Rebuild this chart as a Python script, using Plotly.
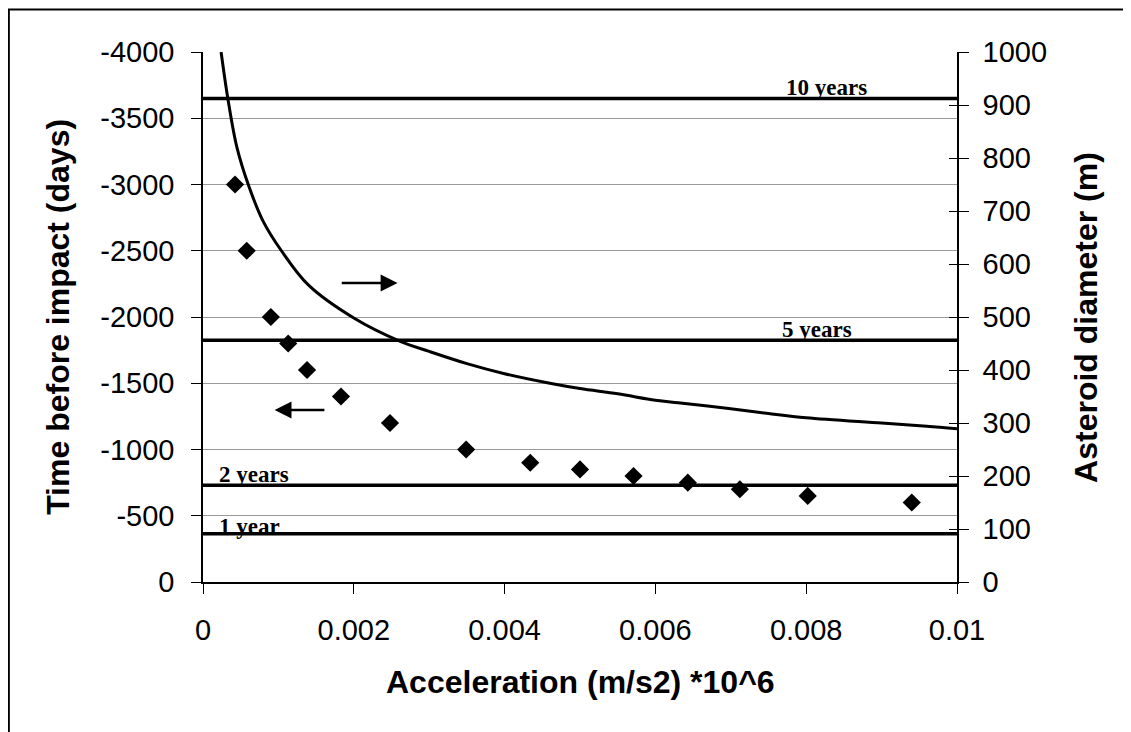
import plotly.graph_objects as go

# Diamond markers: time before impact (days) vs acceleration
accel_pts = [0.000425, 0.00058, 0.0009, 0.00113, 0.00138, 0.00183, 0.00248, 0.00349,
             0.00434, 0.005, 0.00571, 0.00643, 0.00712, 0.00802, 0.0094]
days_pts = [-3000, -2500, -2000, -1800, -1600, -1400, -1200, -1000,
            -900, -850, -800, -750, -700, -650, -600]

# Curve: asteroid diameter (m) vs acceleration
accel_curve = [0.00024, 0.00033, 0.00045, 0.0006, 0.0008, 0.00104, 0.0014, 0.002,
               0.0026, 0.003, 0.0035, 0.004, 0.0046, 0.005, 0.0055, 0.006, 0.0063,
               0.007, 0.0075, 0.008, 0.009, 0.0096, 0.01]
diam_curve = [1000, 912, 820, 750, 680, 625, 560, 498, 455, 435, 412, 393, 375, 365,
              355, 343, 338, 327, 318, 310, 300, 294, 289]

# Reference lines
year_days = [-3650, -1825, -730, -365]
year_labels = ["10 years", "5 years", "2 years", "1 year"]

left_ticks = [0, -500, -1000, -1500, -2000, -2500, -3000, -3500, -4000]
left_ticktext = ["0", "-500", "-1000", "-1500", "-2000", "-2500", "-3000", "-3500", "-4000"]
right_ticks = [0, 100, 200, 300, 400, 500, 600, 700, 800, 900, 1000]
x_ticks = [0, 0.002, 0.004, 0.006, 0.008, 0.01]
x_ticktext = ["0", "0.002", "0.004", "0.006", "0.008", "0.01"]

fig = go.Figure()
fig.add_trace(go.Scatter(x=accel_pts, y=days_pts, mode="markers",
                         marker=dict(symbol="diamond", size=14, color="black"),
                         yaxis="y", showlegend=False))
fig.add_trace(go.Scatter(x=accel_curve, y=diam_curve, mode="lines",
                         line=dict(color="black", width=3, shape="spline"),
                         yaxis="y2", showlegend=False))
# invisible trace to activate the inner-tick overlay axis
fig.add_trace(go.Scatter(x=[None], y=[None], yaxis="y3", showlegend=False, hoverinfo="skip"))

shapes = []
for d in year_days:
    shapes.append(dict(type="line", xref="paper", yref="y", x0=0, x1=1, y0=d, y1=d,
                       line=dict(color="black", width=3.5), layer="above"))
# outer frame
shapes.append(dict(type="rect", xref="paper", yref="paper", x0=-0.2575, x1=1.4, y0=-0.6, y1=1.08,
                   line=dict(color="black", width=2)))

ann_font = dict(family="Liberation Serif", size=23, color="black")
title_font = dict(family="Liberation Sans", size=32, color="black")
annotations = [
    dict(x=0.00827, y=year_days[0], xref="x", yref="y", text="<b>" + year_labels[0] + "</b>",
         showarrow=False, yanchor="bottom", xanchor="center", yshift=-4, font=ann_font),
    dict(x=0.00814, y=year_days[1], xref="x", yref="y", text="<b>" + year_labels[1] + "</b>",
         showarrow=False, yanchor="bottom", xanchor="center", yshift=-4, font=ann_font),
    dict(x=0.00018, y=year_days[2], xref="x", yref="y", text="<b>" + year_labels[2] + "</b>",
         showarrow=False, yanchor="bottom", xanchor="left", yshift=-4, font=ann_font),
    dict(x=0.00018, y=year_days[3], xref="x", yref="y", text="<b>" + year_labels[3] + "</b>",
         showarrow=False, yanchor="bottom", xanchor="left", yshift=-7, font=ann_font),
    dict(x=0.00258, y=-2257, ax=0.00182, ay=-2257, xref="x", yref="y", axref="x", ayref="y",
         text="", showarrow=True, arrowhead=2, arrowsize=1.3, arrowwidth=2.6, arrowcolor="black"),
    dict(x=0.00095, y=-1298, ax=0.00163, ay=-1298, xref="x", yref="y", axref="x", ayref="y",
         text="", showarrow=True, arrowhead=2, arrowsize=1.3, arrowwidth=2.6, arrowcolor="black"),
    # axis titles
    dict(x=-0.1925, y=0.5, xref="paper", yref="paper", text="<b>Time before impact (days)</b>",
         textangle=-90, showarrow=False, xanchor="center", yanchor="middle", font=title_font),
    dict(x=1.171, y=0.5, xref="paper", yref="paper", text="<b>Asteroid diameter (m)</b>",
         textangle=-90, showarrow=False, xanchor="center", yanchor="middle", font=title_font),
    dict(x=0.5, y=-0.189, xref="paper", yref="paper", text="<b>Acceleration (m/s2) *10^6</b>",
         showarrow=False, xanchor="center", yanchor="middle", font=title_font),
]

tick_font = dict(family="Liberation Sans", size=29, color="black")

fig.update_layout(
    width=1131, height=732,
    margin=dict(l=195, r=182, t=44, b=158),
    paper_bgcolor="white", plot_bgcolor="white",
    shapes=shapes, annotations=annotations,
    xaxis=dict(range=[0, 0.01], tickvals=x_ticks, ticktext=x_ticktext, tickfont=tick_font,
               showgrid=False, zeroline=False, showline=True, linecolor="black", linewidth=1.5,
               ticks="outside", ticklen=10, tickcolor="black", ticklabelstandoff=11),
    yaxis=dict(range=[0, -4000], tickvals=left_ticks, ticktext=left_ticktext, tickfont=tick_font,
               showgrid=True, gridcolor="#9a9a9a", gridwidth=1, zeroline=False,
               showline=True, linecolor="black", linewidth=1.5,
               ticks="outside", ticklen=10, tickcolor="black", ticklabelstandoff=11),
    yaxis2=dict(range=[0, 1000], tickvals=right_ticks, tickfont=tick_font, overlaying="y", side="right",
                showgrid=False, zeroline=False, showline=True, linecolor="black", linewidth=1.5,
                ticks="outside", ticklen=10, tickcolor="black", ticklabelstandoff=8),
    yaxis3=dict(range=[0, 1000], tickvals=right_ticks, overlaying="y", side="right",
                showticklabels=False, showgrid=False, zeroline=False, showline=False,
                ticks="inside", ticklen=8, tickcolor="black"),
)

fig.write_html("out.html")
